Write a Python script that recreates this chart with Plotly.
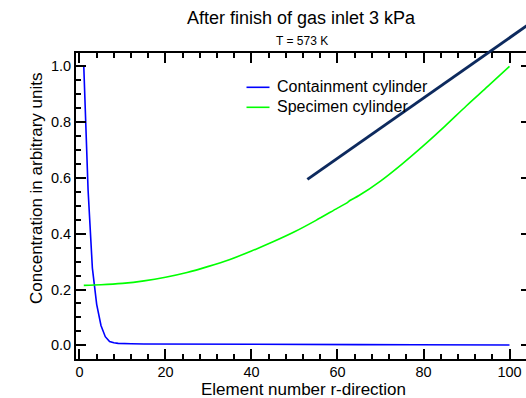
import plotly.graph_objects as go

# ---------------- data ----------------
containment_x = [1, 2, 3, 4, 5, 6, 7, 8, 9, 10, 12, 15, 20, 30, 35, 45, 57, 65, 78, 90, 100]
containment_y = [1.0, 0.557, 0.277, 0.147, 0.071, 0.031, 0.014, 0.009, 0.007, 0.006,
                 0.0055, 0.005, 0.005, 0.005, 0.0045, 0.004, 0.003, 0.0025, 0.002, 0.0012, 0.001]

specimen_x = [1, 5, 10, 15, 20, 25, 30, 35, 40, 45, 50, 55, 60, 62, 63, 65, 70, 75, 80, 85, 90, 95, 100]
specimen_y = [0.215, 0.217, 0.222, 0.231, 0.244, 0.261, 0.283, 0.308, 0.338, 0.371, 0.407,
              0.448, 0.492, 0.509, 0.520, 0.537, 0.589, 0.650, 0.716, 0.786, 0.859, 0.929, 1.0]

stray_x = [53, 112]
stray_y = [0.595, 1.232]

x_ticks = [0, 20, 40, 60, 80, 100]
y_ticks = [0.0, 0.2, 0.4, 0.6, 0.8, 1.0]
y_ticklabels = ["0.0", "0.2", "0.4", "0.6", "0.8", "1.0"]

series_names = ["Containment cylinder", "Specimen cylinder"]
series_colors = ["#0000ff", "#00ff00"]

title_text = "After finish of gas inlet 3 kPa"
subtitle_text = "T = 573 K"
x_label = "Element number r-direction"
y_label = "Concentration in arbitrary units"

# ---------------- layout geometry (pixels) ----------------
W, H = 534, 398
PL, PR, PT, PB = 76, 531, 53, 359
XR = [-0.81, 105.0]
YR = [-0.049, 1.048]

sx = (PR - PL) / (XR[1] - XR[0])
sy = (PB - PT) / (YR[1] - YR[0])
XR2 = [XR[0] - PL / sx, XR[1] + (W - PR) / sx]
YR2 = [YR[0] - (H - PB) / sy, YR[1] + PT / sy]

FONT = "Liberation Sans, Arial, Helvetica, sans-serif"

fig = go.Figure()
fig.add_trace(go.Scatter(x=containment_x, y=containment_y, mode="lines",
                         name=series_names[0], showlegend=False,
                         line=dict(color=series_colors[0], width=1.6)))
fig.add_trace(go.Scatter(x=specimen_x, y=specimen_y, mode="lines",
                         name=series_names[1], showlegend=False,
                         line=dict(color=series_colors[1], width=1.6,
                                   shape="spline", smoothing=0.8)))
fig.add_trace(go.Scatter(x=stray_x, y=stray_y, mode="lines", showlegend=False,
                         xaxis="x2", yaxis="y2",
                         line=dict(color="#0d2a5e", width=3)))

axis_common = dict(
    showline=True, linecolor="black", linewidth=2,
    ticks="inside", ticklen=10, tickwidth=2, tickcolor="black",
    mirror="ticks", showgrid=False, zeroline=False,
    tickfont=dict(family=FONT, size=14.5, color="black"),
)

# manual legend (swatches + labels)
legend_rows_y = [87.3, 107.3]
shapes = []
annotations = []
for name, color, ry in zip(series_names, series_colors, legend_rows_y):
    shapes.append(dict(type="line", xref="paper", yref="paper",
                       x0=246.5 / W, x1=269.5 / W, y0=1 - ry / H, y1=1 - ry / H,
                       line=dict(color=color, width=1.6)))
    annotations.append(dict(text=name, x=275.5 / W, y=1 - (ry - 0.5) / H,
                            xref="paper", yref="paper", showarrow=False,
                            xanchor="left", yanchor="middle", borderpad=0,
                            font=dict(family=FONT, size=16, color="black")))

annotations += [
    dict(text=title_text, x=301 / W, y=1 - 18 / H, xref="paper", yref="paper",
         showarrow=False, xanchor="center", yanchor="middle", borderpad=0,
         font=dict(family=FONT, size=18, color="black")),
    dict(text=subtitle_text, x=302 / W, y=1 - 41 / H, xref="paper", yref="paper",
         showarrow=False, xanchor="center", yanchor="middle", borderpad=0,
         font=dict(family=FONT, size=12, color="black")),
    dict(text=x_label, x=303 / W, y=1 - 389 / H, xref="paper", yref="paper",
         showarrow=False, xanchor="center", yanchor="middle", borderpad=0,
         font=dict(family=FONT, size=17, color="black")),
    dict(text=y_label, x=36 / W, y=1 - 188 / H, xref="paper", yref="paper",
         showarrow=False, xanchor="center", yanchor="middle", textangle=-90, borderpad=0,
         font=dict(family=FONT, size=17, color="black")),
]

fig.update_layout(
    width=W, height=H,
    margin=dict(l=0, r=0, t=0, b=0, pad=0),
    paper_bgcolor="white", plot_bgcolor="rgba(0,0,0,0)",
    font=dict(family=FONT, color="black"),
    xaxis=dict(domain=[PL / W, PR / W], range=XR, tickvals=x_ticks,
               ticklabelstandoff=-1,
               minor=dict(dtick=4, tick0=0, ticks="inside", ticklen=5, tickwidth=1.5,
                          tickcolor="black", showgrid=False),
               **axis_common),
    yaxis=dict(domain=[(H - PB) / H, (H - PT) / H], range=YR, tickvals=y_ticks,
               ticktext=y_ticklabels,
               minor=dict(dtick=0.05, tick0=0, ticks="inside", ticklen=5, tickwidth=1.5,
                          tickcolor="black", showgrid=False),
               **axis_common),
    xaxis2=dict(domain=[0, 1], range=XR2, visible=False, anchor="y2"),
    yaxis2=dict(domain=[0, 1], range=YR2, visible=False, anchor="x2"),
    showlegend=False,
    shapes=shapes,
    annotations=annotations,
)

fig.write_html("out.html",
               post_script="document.documentElement.style.overflow='hidden';"
                           "document.body.style.overflow='hidden';"
                           "document.body.style.margin='0';")
